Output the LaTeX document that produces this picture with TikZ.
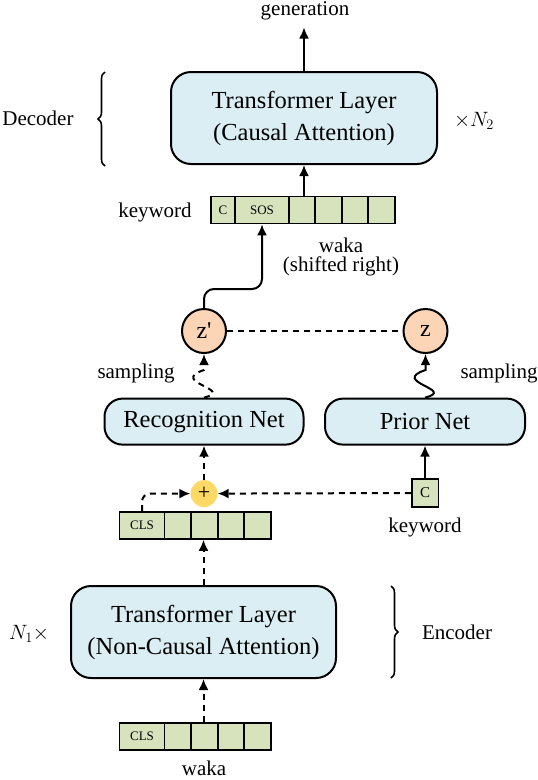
\documentclass[tikz,border=0pt]{standalone}
\usepackage{fontspec}
\setmainfont{Liberation Serif}
\newfontfamily\rawserif{Liberation Serif}
\usetikzlibrary{arrows.meta,decorations.pathreplacing,calc}
\definecolor{boxblue}{RGB}{218,238,243}
\definecolor{cellgreen}{RGB}{215,227,189}
\definecolor{zorange}{RGB}{251,213,181}
\definecolor{plusyellow}{RGB}{255,217,102}
\tikzset{
  bigbox/.style={draw, line width=2pt, fill=boxblue, rounded corners=20pt, align=center,
    font=\fontsize{24.5}{32}\selectfont, inner sep=0pt},
  netbox/.style={draw, line width=2pt, fill=boxblue, rounded corners=18pt,
    font=\fontsize{24.5}{30}\selectfont, inner sep=0pt, minimum height=46pt},
  cell/.style={draw, line width=1.6pt, fill=cellgreen, inner sep=0pt, minimum height=27pt,
    font=\fontsize{13}{15}\selectfont},
  lbl/.style={font=\fontsize{21}{19}\selectfont, inner sep=0pt, align=center},
  zc/.style={circle, draw, line width=2pt, fill=zorange, minimum size=44pt, inner sep=0pt,
    font=\fontsize{24}{28}\selectfont},
  arr/.style={line width=2pt, -{Latex[length=11pt,width=10pt]}},
  dsh/.style={dash pattern=on 6pt off 5pt},
  brc/.style={decorate, decoration={brace, amplitude=7pt}, line width=1.6pt}
}
\begin{document}
\begin{tikzpicture}[x=1pt,y=1pt]
\useasboundingbox (0,0) rectangle (538,-780);
% decoder
\node[bigbox, minimum width=266pt, minimum height=92pt] (dec) at (304,-118)
  {Transformer Layer\\(Causal Attention)};
\node[lbl] (gen) at (305,-11) {generation};
\coordinate (gentip) at (304,-27.5);
\node[lbl] (declbl) at (38,-118) {Decoder};
\node[lbl] (n2) at (474,-121) {$\times N_2$};
\draw[brc] (105,-166) -- (105,-72);
% keyword sequence
\node[cell, minimum width=24pt] (kc) at (223,-210) {C};
\node[cell, minimum width=54pt] (sos) at (262,-210) {SOS};
\node[cell, minimum width=26pt] (k3) at (302,-210) {};
\node[cell, minimum width=27pt] (k4) at (328.5,-210) {};
\node[cell, minimum width=26pt] (k5) at (355,-210) {};
\node[cell, minimum width=27pt] (k6) at (381.5,-210) {};
\node[lbl] (kwl) at (155,-212) {keyword};
\node[lbl] (wakash) at (341,-257) {waka\\(shifted right)};
% latent
\node[zc] (zp) at (204,-331) {{\rawserif z'}};
\node[zc] (z) at (425.5,-331) {z};
\node[lbl] (samp1) at (136,-373) {sampling};
\node[lbl] (samp2) at (499,-373) {sampling};
\node[netbox, minimum width=199pt] (rec) at (204,-421.6) {Recognition Net};
\node[netbox, minimum width=200pt] (prior) at (425,-421.6) {Prior Net};
\node[circle, fill=plusyellow, minimum size=27pt, inner sep=0pt, font=\fontsize{22}{24}\selectfont] (plus) at (204,-493.6) {+};
\node[cell, minimum width=26.6pt, minimum height=28pt, font=\fontsize{15}{17}\selectfont] (kcr) at (425,-493) {C};
\node[lbl] (kwl2) at (425,-527) {keyword};
% CLS sequence
\node[cell, minimum width=45.3pt] (c1) at (142,-525.5) {CLS};
\node[cell, minimum width=26.3pt] (c2) at (177.8,-525.5) {};
\node[cell, minimum width=27pt] (c3) at (204.5,-525.5) {};
\node[cell, minimum width=26pt] (c4) at (231,-525.5) {};
\node[cell, minimum width=27pt] (c5) at (257.5,-525.5) {};
% encoder
\node[bigbox, minimum width=265pt, minimum height=92pt] (enc) at (203.5,-632)
  {Transformer Layer\\(Non-Causal Attention)};
\node[lbl] (n1) at (29,-634) {$N_1\times$};
\node[lbl] (enclbl) at (457,-632) {Encoder};
\draw[brc] (391,-586) -- (391,-678);
% bottom sequence
\node[cell, minimum width=45.3pt] (b1) at (142,-736.5) {CLS};
\node[cell, minimum width=26.3pt] (b2) at (177.8,-736.5) {};
\node[cell, minimum width=27pt] (b3) at (204.5,-736.5) {};
\node[cell, minimum width=26pt] (b4) at (231,-736.5) {};
\node[cell, minimum width=27pt] (b5) at (257.5,-736.5) {};
\node[lbl] (waka) at (204,-768) {waka};
% connectors
\draw[arr] (dec.north) -- (gentip);
\draw[arr] (k3.north -| dec.south) -- (dec.south);
\draw[arr, rounded corners=10pt] (zp.north) -- ++(0,19) -| (sos.south);
\draw[line width=2pt, dsh] (zp.east) -- (z.west);
\draw[arr, dsh] (rec.north) .. controls ++(32,8) and ++(-36,-12) .. ($(zp.south)+(0,-16)$) -- (zp.south);
\draw[arr] (prior.north) .. controls ++(32,8) and ++(-36,-12) .. ($(z.south)+(0,-16)$) -- (z.south);
\draw[arr, dsh] (plus.north) -- (rec.south);
\draw[arr] (kcr.north) -- (prior.south);
\draw[arr, dsh] (kcr.west) -- (plus.east);
\draw[arr, dsh, rounded corners=8pt] (c1.north) |- (plus.west);
\draw[arr, dsh] (enc.north) -- (enc.north |- c3.south);
\draw[arr, dsh] (b3.north -| enc.south) -- (enc.south);
\end{tikzpicture}
\end{document}
